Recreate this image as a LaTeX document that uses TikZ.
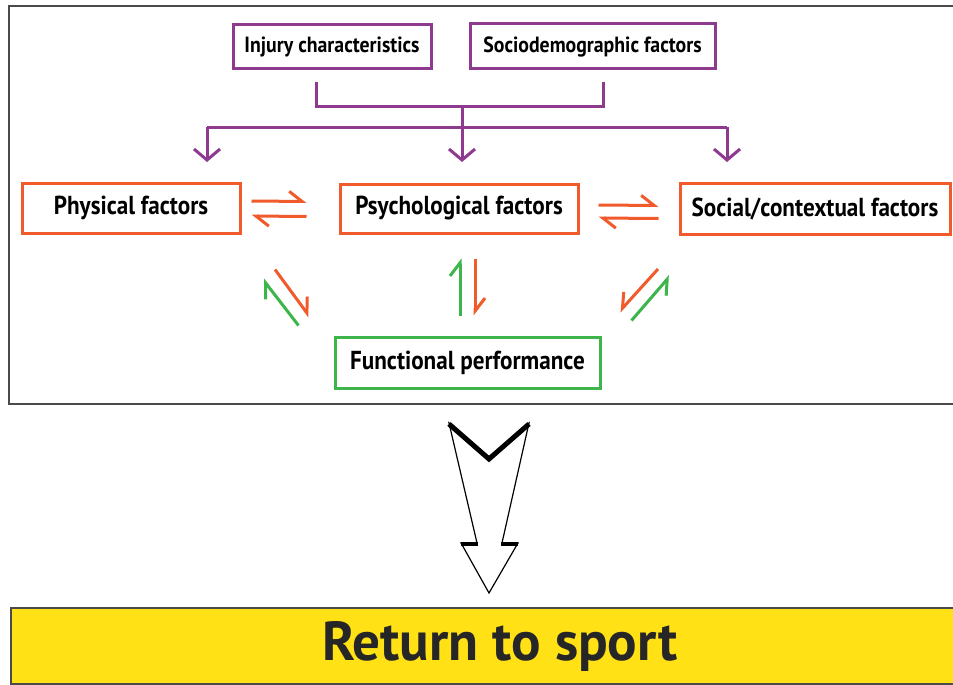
\documentclass[tikz,border=0pt]{standalone}
\usepackage{fontspec}
\setmainfont{PT Sans}
\newfontfamily\boxfont[FakeStretch=0.89]{PT Sans}
\newfontfamily\topfont[FakeStretch=0.9]{PT Sans}
\usetikzlibrary{arrows.meta,calc}
\definecolor{purp}{HTML}{8E3A8F}
\definecolor{oran}{HTML}{F15A2B}
\definecolor{gren}{HTML}{3DB54A}
\definecolor{yell}{HTML}{FFE116}
\definecolor{frame}{HTML}{4A4A4A}
\tikzset{
  box/.style={draw, line width=3pt, fill=white, inner sep=0pt},
  pbox/.style={box, draw=purp, font=\topfont\bfseries\fontsize{22}{25}\selectfont},
  obox/.style={box, draw=oran, font=\boxfont\bfseries\fontsize{26}{30}\selectfont},
  gbox/.style={box, draw=gren, font=\boxfont\bfseries\fontsize{26}{30}\selectfont},
  harp/.style={line width=3pt, -{Straight Barb[harpoon, length=13pt 0, width=20pt 0]}},
  harpS/.style={line width=3pt, -{Straight Barb[harpoon, swap, length=13pt 0, width=20pt 0]}},
  parr/.style={draw=purp, line width=3pt, -{Straight Barb[length=11pt 0, width=26pt 0]}},
  pline/.style={draw=purp, line width=3pt},
}
\begin{document}
\begin{tikzpicture}[x=1pt,y=-1pt]
\useasboundingbox (0,0) rectangle (953,685);
\fill[white] (0,0) rectangle (953,685);
% frame
\draw[frame, line width=2pt] (965,6) -- (9,6) -- (9,404) -- (965,404);
% nodes
\node[pbox, minimum width=198pt, minimum height=44pt] (inj) at (332,47) {Injury characteristics};
\node[pbox, minimum width=245pt, minimum height=45pt] (soc) at (592.5,46.5) {Sociodemographic factors};
\node[obox, minimum width=218pt, minimum height=50pt] (phys) at (131,208) {Physical factors};
\node[obox, minimum width=238pt, minimum height=49pt] (psy) at (459,208.5) {Psychological factors};
\node[obox, minimum width=270pt, minimum height=51pt] (sctx) at (815,209) {Social/contextual factors};
\node[gbox, minimum width=265pt, minimum height=51pt] (func) at (467.5,362.5) {Functional performance};
% purple connectors
\coordinate (j1) at (316,82);
\coordinate (j2) at (603,82);
\coordinate (jm) at (462,106);
\coordinate (hb) at (462,127);
\coordinate (hl) at (207,127);
\coordinate (hr) at (727,127);
\coordinate (tl) at (207,162);
\coordinate (tm) at (462,162);
\coordinate (tr) at (727,162);
\draw[pline, line join=miter] (j1) |- (jm) -| (j2);
\draw[pline] (jm) -- (hb);
\draw[pline, line join=miter] (tl |- hl) -- (hr);
\draw[parr] (hl) -- (tl);
\draw[parr] (hb) -- (tm);
\draw[parr] (hr) -- (tr);
% horizontal harpoons
\draw[harp, oran] ($(phys.east)+(10,-7)$) -- ($(psy.west)+(-32,-7)$);
\draw[harp, oran] ($(psy.west)+(-32,8)$) -- ($(phys.east)+(10,8)$);
\draw[harp, oran] ($(psy.east)+(19,-3.5)$) -- ($(sctx.west)+(-20,-3.5)$);
\draw[harp, oran] ($(sctx.west)+(-20,9.5)$) -- ($(psy.east)+(19,9.5)$);
% vertical harpoons
\draw[harp, gren] ($(func.north)+(-7.5,-20)$) -- ($(psy.south)+(1,24)$);
\draw[harp, oran] ($(psy.south)+(16,24)$) -- ($(func.north)+(7.5,-20)$);
% diagonal harpoons
\draw[harp, oran] ($(phys.south)+(144,35)$) -- ($(func.north west)+(-24,-19)$);
\draw[harp, gren] ($(func.north west)+(-35,-10)$) -- ($(phys.south)+(132,45)$);
\draw[harpS, oran] ($(sctx.south)+(-157,33)$) -- ($(func.north east)+(18,-24)$);
\draw[harpS, gren] ($(func.north east)+(30,-15)$) -- ($(sctx.south)+(-145,40)$);
% big arrow
\coordinate (a1) at (449,423);
\coordinate (a2) at (489,457);
\coordinate (a3) at (529,423);
\coordinate (a4) at (502,543);
\coordinate (a5) at (518,543);
\coordinate (a6) at (489,593);
\coordinate (a7) at (461,543);
\coordinate (a8) at (477,543);
\draw[fill=white, line width=1.2pt, line join=miter] (a1) -- (a2) -- (a3) -- (a4) -- (a5) -- (a6) -- (a7) -- (a8) -- cycle;
\draw[line width=5pt, line join=miter] ($(a1)+(0,1)$) -- ($(a2)+(0,2)$) -- ($(a3)+(0,1)$);
\draw[line width=4pt] ($(a7)+(0,1)$) -- ($(a8)+(1,1)$);
\draw[line width=4pt] ($(a4)+(-1,1)$) -- ($(a5)+(0,1)$);
% return to sport
\node[draw=frame, line width=1.5pt, fill=yell, minimum width=960pt, minimum height=76pt, anchor=north west, inner sep=0pt] (rts) at (10,607) {};
\node[font=\fontsize{55}{60}\selectfont\bfseries, text=black!85] (rtst) at (500,646) {Return to sport};
\end{tikzpicture}
\end{document}
